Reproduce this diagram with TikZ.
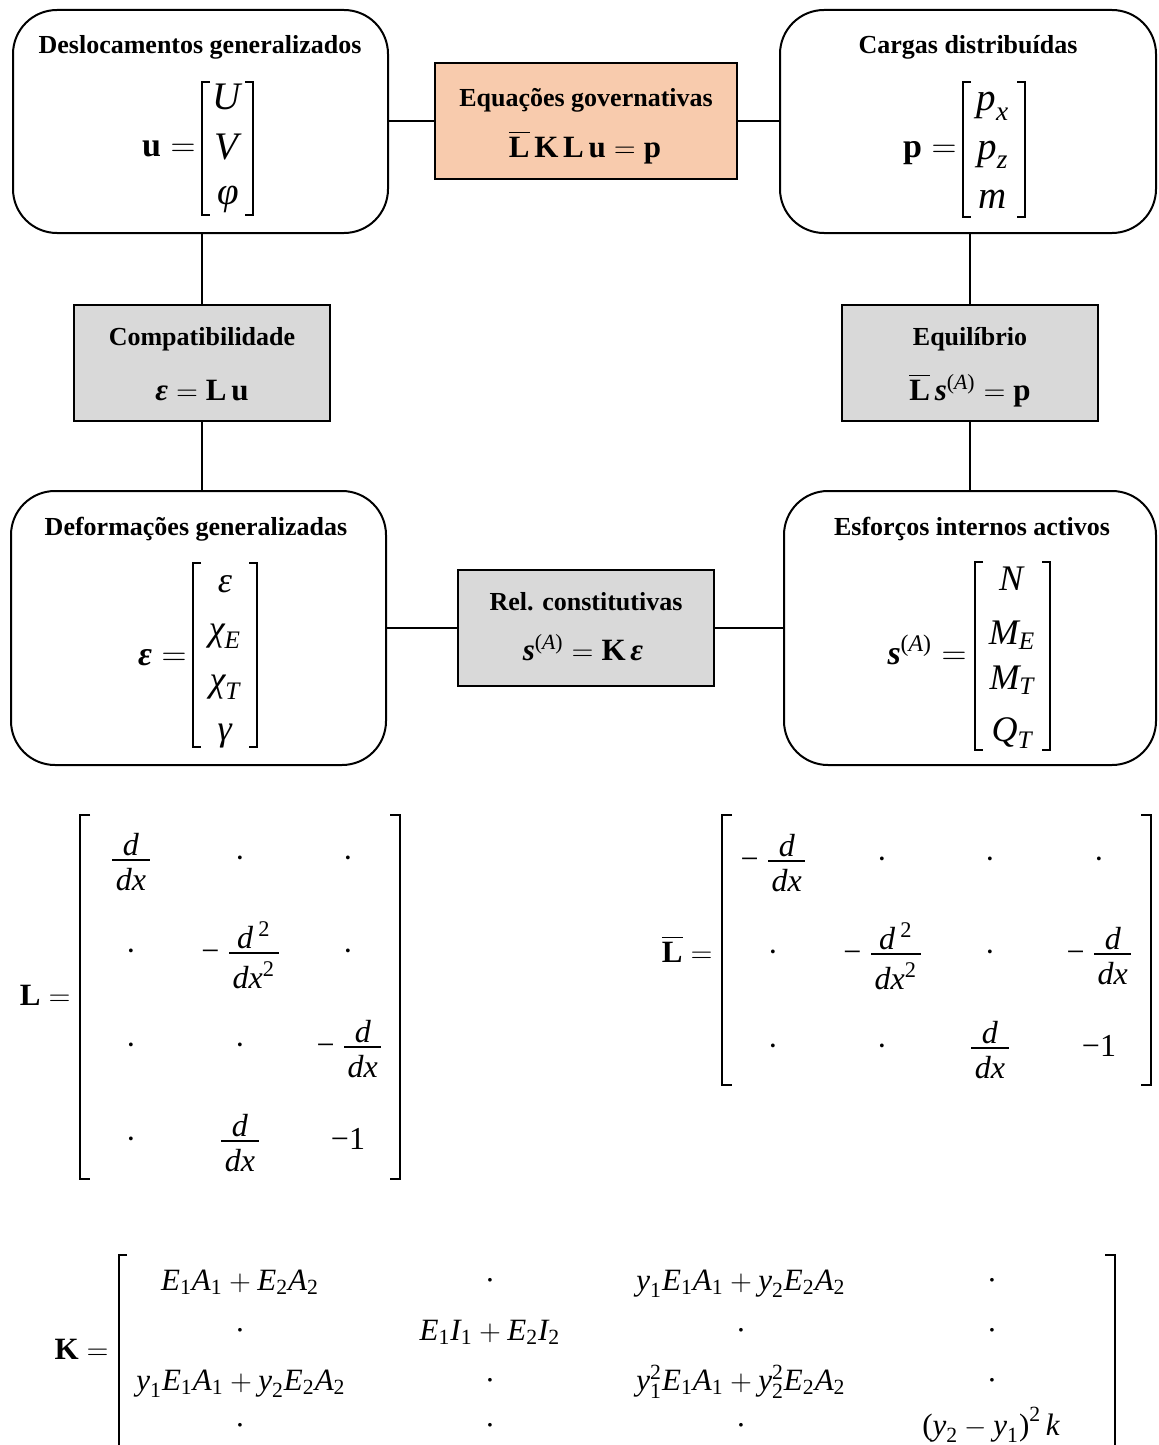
\documentclass[tikz,border=0pt]{standalone}
\usepackage{amsmath}
\usepackage{fontspec}
\setmainfont{Liberation Serif}
\definecolor{peach}{HTML}{F8CBAD}
\definecolor{lgray}{HTML}{D9D9D9}
\newlength\frw
\newcommand\fr[2]{\mbox{%
 \setbox0\hbox{#1}\setbox2\hbox{#2}%
 \frw=\wd0 \ifdim\wd2>\frw \frw=\wd2\fi
 \advance\frw by 0.22em
 \raise0.23em\hbox{%
   \vbox{\hbox to\frw{\hfil\box0\hfil}\kern0.1em\hrule width\frw height0.045em}%
   \kern-\frw
   \vtop{\kern0.24em\hbox to\frw{\hfil\box2\hfil}}}}}
\newcommand\vs[2]{\textit{#1}_{\textup{#2}}}
\newcommand\dd{\fr{\textit{d}}{\textit{dx}}}
\newcommand\ddd{\fr{\textit{d}\,\textsuperscript{2}}{\textit{dx}\textsuperscript{2}}}
\newcommand\mbrk[5]{\draw[brk] (#1+#5,#3) -- (#1,#3) -- (#1,#4) -- (#1+#5,#4);
  \draw[brk] (#2-#5,#3) -- (#2,#3) -- (#2,#4) -- (#2-#5,#4);}
\begin{document}
\begin{tikzpicture}[x=0.5pt,y=-0.5pt,
 rbox/.style={draw, line width=1pt, rounded corners=22pt, inner sep=0, fill=white},
 sbox/.style={draw, line width=1pt, inner sep=0},
 ttl/.style={font=\fontsize{13}{15}\selectfont\bfseries, anchor=base, inner sep=0},
 eqn/.style={font=\fontsize{15.5}{18}\selectfont, anchor=base, inner sep=0},
 lhs/.style={font=\fontsize{17}{20}\selectfont, anchor=base east, inner sep=0},
 vbig/.style={font=\fontsize{19.5}{23}\selectfont, inner sep=0},
 vmid/.style={font=\fontsize{18}{21}\selectfont, anchor=base, inner sep=0},
 ment/.style={font=\fontsize{16}{19}\selectfont, anchor=base, inner sep=0},
 mlhs/.style={font=\fontsize{15.5}{18}\selectfont, anchor=base east, inner sep=0},
 kent/.style={font=\fontsize{15.5}{18}\selectfont, anchor=base, inner sep=0},
 link/.style={line width=1pt},
 brk/.style={line width=0.75pt}]
\useasboundingbox (0,0) rectangle (1158,1445);
% boxes
\node[rbox, minimum width={375*0.5pt}, minimum height={223*0.5pt}] (A) at (200.5,121.5) {};
\node[sbox, fill=peach, minimum width={302*0.5pt}, minimum height={116*0.5pt}] (E) at (586,121) {};
\node[rbox, minimum width={376*0.5pt}, minimum height={223*0.5pt}] (C) at (968,121.5) {};
\node[sbox, fill=lgray, minimum width={256*0.5pt}, minimum height={116*0.5pt}] (Cp) at (202,363) {};
\node[sbox, fill=lgray, minimum width={256*0.5pt}, minimum height={116*0.5pt}] (Eq) at (970,363) {};
\node[rbox, minimum width={375*0.5pt}, minimum height={274*0.5pt}] (D) at (198.5,628) {};
\node[sbox, fill=lgray, minimum width={256*0.5pt}, minimum height={116*0.5pt}] (R) at (586,628) {};
\node[rbox, minimum width={372*0.5pt}, minimum height={274*0.5pt}] (S) at (970,628) {};
% connectors
\draw[link] (E.west -| A.east) -- (E.west);
\draw[link] (E.east) -- (E.east -| C.west);
\draw[link] (Cp.north |- A.south) -- (Cp.north);
\draw[link] (Cp.south) -- (Cp.south |- D.north);
\draw[link] (Eq.north |- C.south) -- (Eq.north);
\draw[link] (Eq.south) -- (Eq.south |- S.north);
\draw[link] (R.west -| D.east) -- (R.west);
\draw[link] (R.east) -- (R.east -| S.west);
% titles
\node[ttl] (tA) at (200,54) {Deslocamentos generalizados};
\node[ttl] (tC) at (968,54) {Cargas distribuídas};
\node[ttl] (tE) at (586,107) {Equações governativas};
\node[ttl] (tCp) at (202,345) {Compatibilidade};
\node[ttl] (tEq) at (970,345) {Equilíbrio};
\node[ttl] (tD) at (196,535) {Deformações generalizadas};
\node[ttl] (tS) at (972,535) {Esforços internos activos};
\node[ttl] (tR) at (586,610) {Rel. constitutivas};
% box equations
\node[eqn] (eE) at (585,157) {$\overline{\textbf{L}}\,\textbf{K}\,\textbf{L}\,\textbf{u}=\textbf{p}$};
\node[eqn] (eCp) at (202,400) {$\textbf{\textit{ε}}=\textbf{L}\,\textbf{u}$};
\node[eqn] (eEq) at (970,400) {$\overline{\textbf{L}}\,\textbf{\textit{s}}^{\textup{(}\textit{A}\textup{)}}=\textbf{p}$};
\node[eqn] (eR) at (583,660) {$\textbf{\textit{s}}^{\textup{(}\textit{A}\textup{)}}=\textbf{K}\,\textbf{\textit{ε}}$};
% vector u
\node[lhs] (uL) at (196,156) {$\textbf{u}=$};
\mbrk{202}{253}{82}{215}{8}
\node[vbig] (u1) at (228,97) {\textit{U}};
\node[vbig] (u2) at (228,147) {\textit{V}};
\node[vbig] (u3) at (228,199) {\textit{φ}};
% vector p
\node[lhs] (pL) at (957,157) {$\textbf{p}=$};
\mbrk{963}{1025}{82}{217}{8}
\node[vbig, anchor=base] (p1) at (993,111) {$\textit{p}_{\textit{x}}$};
\node[vbig, anchor=base] (p2) at (993,159) {$\textit{p}_{\textit{z}}$};
\node[vbig, anchor=base] (p3) at (993,208) {\textit{m}};
% vector eps
\node[lhs] (eL) at (187,665) {$\textbf{\textit{ε}}=$};
\mbrk{193}{257}{563}{747}{8}
\node[vmid] (e1) at (225,592) {\textit{ε}};
\node[vmid] (e2) at (225,640) {$\textit{χ}_{\textit{E}}$};
\node[vmid] (e3) at (225,691) {$\textit{χ}_{\textit{T}}$};
\node[vmid] (e4) at (225,740) {\textit{γ}};
% vector s
\node[lhs] (sL) at (967,664) {$\textbf{\textit{s}}^{\textup{(}\textit{A}\textup{)}}=$};
\mbrk{975}{1050}{562}{750}{8}
\node[vmid] (s1) at (1012,590) {\textit{N}};
\node[vmid] (s2) at (1012,644) {$\textit{M}_{\textit{E}}$};
\node[vmid] (s3) at (1012,689) {$\textit{M}_{\textit{T}}$};
\node[vmid] (s4) at (1012,741) {$\textit{Q}_{\textit{T}}$};
% matrix L
\node[mlhs] (LL) at (71,1005) {$\textbf{L}=$};
\mbrk{80}{400}{815}{1179}{10}
\node[ment] (L11) at (131,868) {\dd};
\node[ment] (L12) at (240,868) {·};
\node[ment] (L13) at (348,868) {·};
\node[ment] (L21) at (131,961) {·};
\node[ment] (L22) at (240,961) {−\hspace{0.3em}\ddd};
\node[ment] (L23) at (348,961) {·};
\node[ment] (L31) at (131,1055) {·};
\node[ment] (L32) at (240,1055) {·};
\node[ment] (L33) at (349,1055) {−\hspace{0.3em}\dd};
\node[ment] (L41) at (131,1149) {·};
\node[ment] (L42) at (240,1149) {\dd};
\node[ment] (L43) at (348,1149) {−1};
% matrix Lbar
\node[mlhs] (LbL) at (713,962) {$\overline{\textbf{L}}=$};
\mbrk{722}{1151}{815}{1085}{10}
\node[ment] (B11) at (773,869) {−\hspace{0.3em}\dd};
\node[ment] (B12) at (882,869) {·};
\node[ment] (B13) at (990,869) {·};
\node[ment] (B14) at (1099,869) {·};
\node[ment] (B21) at (773,962) {·};
\node[ment] (B22) at (882,962) {−\hspace{0.3em}\ddd};
\node[ment] (B23) at (990,962) {·};
\node[ment] (B24) at (1099,962) {−\hspace{0.3em}\dd};
\node[ment] (B31) at (773,1056) {·};
\node[ment] (B32) at (882,1056) {·};
\node[ment] (B33) at (990,1056) {\dd};
\node[ment] (B34) at (1099,1056) {−1};
% matrix K
\node[mlhs] (KL) at (109,1359) {$\textbf{K}=$};
\draw[brk] (127,1255) -- (119,1255) -- (119,1445);
\draw[brk] (1105,1255) -- (1115,1255) -- (1115,1445);
\node[kent] (K11) at (240,1290) {$\vs{E}{1}\vs{A}{1}+\vs{E}{2}\vs{A}{2}$};
\node[kent] (K12) at (490,1290) {·};
\node[kent] (K13) at (741,1290) {$\vs{y}{1}\vs{E}{1}\vs{A}{1}+\vs{y}{2}\vs{E}{2}\vs{A}{2}$};
\node[kent] (K14) at (992,1290) {·};
\node[kent] (K21) at (240,1340) {·};
\node[kent] (K22) at (490,1340) {$\vs{E}{1}\vs{I}{1}+\vs{E}{2}\vs{I}{2}$};
\node[kent] (K23) at (741,1340) {·};
\node[kent] (K24) at (992,1340) {·};
\node[kent] (K31) at (241,1390) {$\vs{y}{1}\vs{E}{1}\vs{A}{1}+\vs{y}{2}\vs{E}{2}\vs{A}{2}$};
\node[kent] (K32) at (490,1390) {·};
\node[kent] (K33) at (741,1390) {$\textit{y}_{\textup{1}}^{\textup{2}}\vs{E}{1}\vs{A}{1}+\textit{y}_{\textup{2}}^{\textup{2}}\vs{E}{2}\vs{A}{2}$};
\node[kent] (K34) at (992,1390) {·};
\node[kent] (K41) at (240,1435) {·};
\node[kent] (K42) at (490,1435) {·};
\node[kent] (K43) at (741,1435) {·};
\node[kent] (K44) at (991,1435) {$\textup{(}\vs{y}{2}-\vs{y}{1}\textup{)}^{\textup{2}}\,\textit{k}$};
\end{tikzpicture}
\end{document}
